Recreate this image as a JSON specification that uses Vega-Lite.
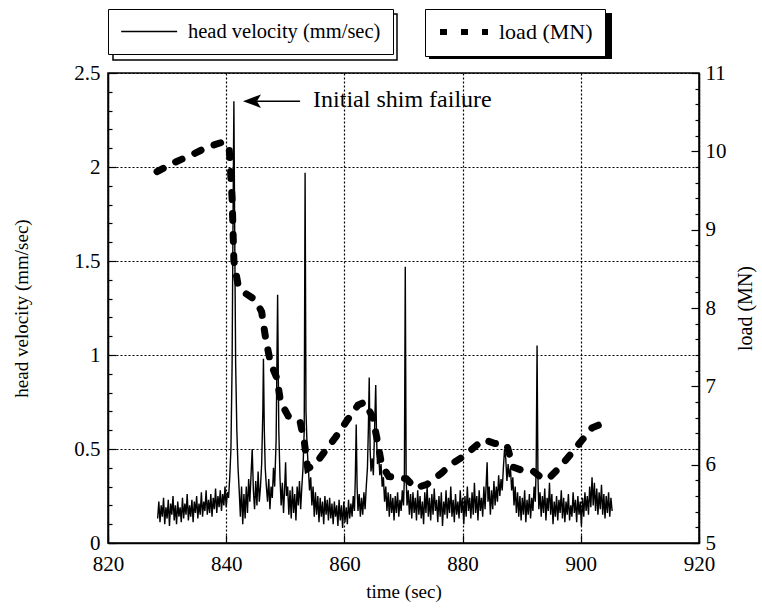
{
  "$schema": "https://vega.github.io/schema/vega-lite/v6.json",
  "width": 591,
  "height": 470,
  "autosize": {"type": "none"},
  "padding": {"left": 108, "top": 73, "right": 63, "bottom": 70},
  "background": "white",
  "config": {
    "font": "Liberation Serif",
    "view": {"stroke": "black", "strokeWidth": 1.5},
    "axis": {
      "labelFont": "Liberation Serif", "labelFontSize": 21, "labelColor": "black",
      "titleFont": "Liberation Serif", "titleFontSize": 19, "titleFontWeight": "normal", "titleColor": "black",
      "domainColor": "black", "domainWidth": 1.5, "tickColor": "black", "tickWidth": 1.2,
      "gridColor": "black", "gridDash": [2, 2], "gridWidth": 1.2,
      "labelOverlap": false, "labelFlush": false, "labelBound": false
    },
    "legend": {"labelFont": "Liberation Serif", "labelColor": "black", "labelLimit": 0}
  },
  "datasets": {
    "vel": [
      {"t":828.4,"v":0.13},{"t":828.6,"v":0.22},{"t":828.8,"v":0.11},{"t":829.0,"v":0.2},{"t":829.2,"v":0.14},{"t":829.4,"v":0.24},{"t":829.6,"v":0.1},{"t":829.8,"v":0.19},{"t":830.0,"v":0.13},{"t":830.2,"v":0.23},{"t":830.4,"v":0.09},{"t":830.6,"v":0.21},{"t":830.8,"v":0.15},{"t":831.0,"v":0.25},{"t":831.2,"v":0.12},{"t":831.4,"v":0.2},{"t":831.6,"v":0.1},{"t":831.8,"v":0.22},{"t":832.0,"v":0.14},{"t":832.2,"v":0.19},{"t":832.4,"v":0.11},{"t":832.6,"v":0.24},{"t":832.8,"v":0.13},{"t":833.0,"v":0.21},{"t":833.2,"v":0.15},{"t":833.4,"v":0.26},{"t":833.6,"v":0.12},{"t":833.8,"v":0.2},{"t":834.0,"v":0.14},{"t":834.2,"v":0.23},{"t":834.4,"v":0.11},{"t":834.6,"v":0.22},{"t":834.8,"v":0.16},{"t":835.0,"v":0.25},{"t":835.2,"v":0.13},{"t":835.4,"v":0.21},{"t":835.6,"v":0.15},{"t":835.8,"v":0.27},{"t":836.0,"v":0.14},{"t":836.2,"v":0.22},{"t":836.4,"v":0.17},{"t":836.6,"v":0.28},{"t":836.8,"v":0.15},{"t":837.0,"v":0.23},{"t":837.2,"v":0.16},{"t":837.4,"v":0.26},{"t":837.6,"v":0.14},{"t":837.8,"v":0.24},{"t":838.0,"v":0.18},{"t":838.2,"v":0.29},{"t":838.4,"v":0.16},{"t":838.6,"v":0.25},{"t":838.8,"v":0.19},{"t":839.0,"v":0.28},{"t":839.2,"v":0.17},{"t":839.4,"v":0.26},{"t":839.6,"v":0.2},{"t":839.8,"v":0.3},{"t":840.0,"v":0.19},{"t":840.2,"v":0.27},{"t":840.4,"v":0.24},{"t":840.6,"v":0.35},
      {"t":840.8,"v":0.5},{"t":841.0,"v":0.95},{"t":841.15,"v":1.7},{"t":841.3,"v":2.35},{"t":841.45,"v":1.6},{"t":841.6,"v":0.95},{"t":841.8,"v":0.6},{"t":842.0,"v":0.4},{"t":842.2,"v":0.28},
      {"t":842.4,"v":0.14},{"t":842.6,"v":0.3},{"t":842.8,"v":0.1},{"t":843.0,"v":0.26},{"t":843.2,"v":0.13},{"t":843.4,"v":0.3},{"t":843.6,"v":0.16},{"t":843.8,"v":0.34},{"t":844.0,"v":0.22},{"t":844.2,"v":0.36},{"t":844.4,"v":0.5},{"t":844.6,"v":0.28},{"t":844.8,"v":0.18},{"t":845.0,"v":0.33},{"t":845.2,"v":0.2},{"t":845.4,"v":0.38},{"t":845.6,"v":0.22},{"t":845.8,"v":0.3},{"t":846.0,"v":0.42},{"t":846.2,"v":0.7},{"t":846.3,"v":0.98},{"t":846.45,"v":0.6},{"t":846.6,"v":0.4},{"t":846.8,"v":0.3},{"t":847.0,"v":0.22},{"t":847.2,"v":0.34},{"t":847.4,"v":0.18},{"t":847.6,"v":0.3},{"t":847.8,"v":0.24},{"t":848.0,"v":0.4},{"t":848.2,"v":0.3},{"t":848.45,"v":0.55},{"t":848.7,"v":1.32},{"t":848.9,"v":0.6},{"t":849.1,"v":0.35},{"t":849.3,"v":0.2},{"t":849.5,"v":0.32},{"t":849.7,"v":0.16},{"t":849.9,"v":0.3},{"t":850.05,"v":0.43},{"t":850.2,"v":0.25},{"t":850.4,"v":0.3},{"t":850.6,"v":0.15},{"t":850.8,"v":0.28},{"t":851.0,"v":0.13},{"t":851.2,"v":0.3},{"t":851.4,"v":0.16},{"t":851.6,"v":0.26},{"t":851.8,"v":0.12},{"t":852.0,"v":0.3},{"t":852.2,"v":0.2},{"t":852.4,"v":0.33},{"t":852.6,"v":0.18},{"t":852.8,"v":0.3},{"t":853.0,"v":0.4},{"t":853.2,"v":0.6},{"t":853.35,"v":1.97},{"t":853.5,"v":0.7},{"t":853.7,"v":0.5},{"t":853.9,"v":0.4},{"t":854.1,"v":0.28},{"t":854.3,"v":0.35},{"t":854.5,"v":0.2},{"t":854.7,"v":0.3},{"t":854.9,"v":0.14},{"t":855.1,"v":0.27},{"t":855.3,"v":0.15},{"t":855.5,"v":0.25},{"t":855.7,"v":0.11},{"t":855.9,"v":0.24},{"t":856.1,"v":0.14},{"t":856.3,"v":0.22},{"t":856.5,"v":0.1},{"t":856.7,"v":0.25},{"t":856.9,"v":0.15},{"t":857.1,"v":0.23},{"t":857.3,"v":0.12},{"t":857.5,"v":0.24},{"t":857.7,"v":0.13},{"t":857.9,"v":0.21},{"t":858.1,"v":0.1},{"t":858.3,"v":0.22},{"t":858.5,"v":0.14},{"t":858.7,"v":0.2},{"t":858.9,"v":0.09},{"t":859.1,"v":0.23},{"t":859.3,"v":0.12},{"t":859.5,"v":0.2},{"t":859.7,"v":0.08},{"t":859.9,"v":0.22},{"t":860.1,"v":0.11},{"t":860.3,"v":0.19},{"t":860.5,"v":0.1},{"t":860.7,"v":0.23},{"t":860.9,"v":0.13},{"t":861.1,"v":0.21},{"t":861.3,"v":0.14},{"t":861.5,"v":0.25},{"t":861.7,"v":0.17},{"t":861.85,"v":0.35},{"t":862.0,"v":0.63},{"t":862.15,"v":0.3},{"t":862.3,"v":0.17},{"t":862.5,"v":0.26},{"t":862.7,"v":0.14},{"t":862.9,"v":0.24},{"t":863.1,"v":0.15},{"t":863.3,"v":0.27},{"t":863.5,"v":0.18},{"t":863.7,"v":0.3},{"t":863.9,"v":0.4},{"t":864.05,"v":0.6},{"t":864.2,"v":0.88},{"t":864.35,"v":0.5},{"t":864.5,"v":0.38},{"t":864.7,"v":0.45},{"t":864.9,"v":0.36},{"t":865.1,"v":0.6},{"t":865.3,"v":0.84},{"t":865.45,"v":0.55},{"t":865.6,"v":0.42},{"t":865.8,"v":0.47},{"t":866.0,"v":0.36},{"t":866.2,"v":0.42},{"t":866.4,"v":0.3},{"t":866.6,"v":0.35},{"t":866.8,"v":0.22},{"t":867.0,"v":0.3},{"t":867.2,"v":0.17},{"t":867.4,"v":0.27},{"t":867.6,"v":0.14},{"t":867.8,"v":0.26},{"t":868.0,"v":0.16},{"t":868.2,"v":0.24},{"t":868.4,"v":0.12},{"t":868.6,"v":0.25},{"t":868.8,"v":0.16},{"t":869.0,"v":0.27},{"t":869.2,"v":0.14},{"t":869.4,"v":0.23},{"t":869.6,"v":0.17},{"t":869.8,"v":0.28},{"t":870.0,"v":0.2},{"t":870.15,"v":0.35},{"t":870.3,"v":1.47},{"t":870.45,"v":0.35},{"t":870.6,"v":0.2},{"t":870.8,"v":0.28},{"t":871.0,"v":0.15},{"t":871.2,"v":0.26},{"t":871.4,"v":0.13},{"t":871.6,"v":0.27},{"t":871.8,"v":0.16},{"t":872.0,"v":0.24},{"t":872.2,"v":0.12},{"t":872.4,"v":0.28},{"t":872.6,"v":0.15},{"t":872.8,"v":0.25},{"t":873.0,"v":0.13},{"t":873.2,"v":0.22},{"t":873.4,"v":0.1},{"t":873.6,"v":0.27},{"t":873.8,"v":0.16},{"t":874.0,"v":0.3},{"t":874.2,"v":0.14},{"t":874.4,"v":0.24},{"t":874.6,"v":0.12},{"t":874.8,"v":0.26},{"t":875.0,"v":0.15},{"t":875.2,"v":0.29},{"t":875.4,"v":0.17},{"t":875.6,"v":0.23},{"t":875.8,"v":0.11},{"t":876.0,"v":0.25},{"t":876.2,"v":0.14},{"t":876.4,"v":0.27},{"t":876.6,"v":0.09},{"t":876.8,"v":0.22},{"t":877.0,"v":0.15},{"t":877.2,"v":0.28},{"t":877.4,"v":0.13},{"t":877.6,"v":0.24},{"t":877.8,"v":0.16},{"t":878.0,"v":0.3},{"t":878.2,"v":0.14},{"t":878.4,"v":0.23},{"t":878.6,"v":0.11},{"t":878.8,"v":0.26},{"t":879.0,"v":0.15},{"t":879.2,"v":0.22},{"t":879.4,"v":0.13},{"t":879.6,"v":0.28},{"t":879.8,"v":0.16},{"t":880.0,"v":0.24},{"t":880.2,"v":0.1},{"t":880.4,"v":0.25},{"t":880.6,"v":0.14},{"t":880.8,"v":0.3},{"t":881.0,"v":0.17},{"t":881.2,"v":0.24},{"t":881.4,"v":0.13},{"t":881.6,"v":0.27},{"t":881.8,"v":0.15},{"t":882.0,"v":0.32},{"t":882.2,"v":0.16},{"t":882.4,"v":0.25},{"t":882.6,"v":0.12},{"t":882.8,"v":0.28},{"t":883.0,"v":0.17},{"t":883.2,"v":0.24},{"t":883.4,"v":0.14},{"t":883.6,"v":0.3},{"t":883.8,"v":0.18},{"t":884.0,"v":0.32},{"t":884.15,"v":0.43},{"t":884.3,"v":0.22},{"t":884.5,"v":0.3},{"t":884.7,"v":0.15},{"t":884.9,"v":0.28},{"t":885.1,"v":0.18},{"t":885.3,"v":0.33},{"t":885.5,"v":0.2},{"t":885.7,"v":0.3},{"t":885.9,"v":0.22},{"t":886.1,"v":0.36},{"t":886.3,"v":0.25},{"t":886.5,"v":0.34},{"t":886.7,"v":0.28},{"t":886.9,"v":0.4},{"t":887.1,"v":0.5},{"t":887.3,"v":0.45},{"t":887.5,"v":0.33},{"t":887.7,"v":0.42},{"t":887.9,"v":0.35},{"t":888.1,"v":0.4},{"t":888.3,"v":0.28},{"t":888.5,"v":0.35},{"t":888.7,"v":0.2},{"t":888.9,"v":0.3},{"t":889.1,"v":0.16},{"t":889.3,"v":0.27},{"t":889.5,"v":0.14},{"t":889.7,"v":0.25},{"t":889.9,"v":0.12},{"t":890.1,"v":0.24},{"t":890.3,"v":0.15},{"t":890.5,"v":0.28},{"t":890.7,"v":0.11},{"t":890.9,"v":0.23},{"t":891.1,"v":0.15},{"t":891.3,"v":0.26},{"t":891.5,"v":0.13},{"t":891.7,"v":0.24},{"t":891.9,"v":0.17},{"t":892.1,"v":0.3},{"t":892.3,"v":0.22},{"t":892.45,"v":0.4},{"t":892.6,"v":1.05},{"t":892.75,"v":0.35},{"t":892.9,"v":0.18},{"t":893.1,"v":0.27},{"t":893.3,"v":0.14},{"t":893.5,"v":0.25},{"t":893.7,"v":0.16},{"t":893.9,"v":0.29},{"t":894.1,"v":0.12},{"t":894.3,"v":0.24},{"t":894.5,"v":0.17},{"t":894.7,"v":0.32},{"t":894.9,"v":0.15},{"t":895.1,"v":0.26},{"t":895.3,"v":0.1},{"t":895.5,"v":0.22},{"t":895.7,"v":0.14},{"t":895.9,"v":0.25},{"t":896.1,"v":0.12},{"t":896.3,"v":0.23},{"t":896.5,"v":0.16},{"t":896.7,"v":0.28},{"t":896.9,"v":0.13},{"t":897.1,"v":0.24},{"t":897.3,"v":0.11},{"t":897.5,"v":0.22},{"t":897.7,"v":0.15},{"t":897.9,"v":0.26},{"t":898.1,"v":0.12},{"t":898.3,"v":0.2},{"t":898.5,"v":0.14},{"t":898.7,"v":0.27},{"t":898.9,"v":0.16},{"t":899.1,"v":0.23},{"t":899.3,"v":0.11},{"t":899.5,"v":0.25},{"t":899.7,"v":0.15},{"t":899.9,"v":0.22},{"t":900.1,"v":0.09},{"t":900.3,"v":0.24},{"t":900.5,"v":0.14},{"t":900.7,"v":0.27},{"t":900.9,"v":0.17},{"t":901.1,"v":0.25},{"t":901.3,"v":0.15},{"t":901.5,"v":0.3},{"t":901.7,"v":0.19},{"t":901.9,"v":0.35},{"t":902.1,"v":0.2},{"t":902.3,"v":0.32},{"t":902.5,"v":0.17},{"t":902.7,"v":0.29},{"t":902.9,"v":0.15},{"t":903.1,"v":0.27},{"t":903.3,"v":0.18},{"t":903.5,"v":0.31},{"t":903.7,"v":0.15},{"t":903.9,"v":0.26},{"t":904.1,"v":0.13},{"t":904.3,"v":0.25},{"t":904.5,"v":0.16},{"t":904.7,"v":0.27},{"t":904.9,"v":0.14},{"t":905.1,"v":0.24},{"t":905.3,"v":0.17}
    ],
    "load": [
      {"t":828.3,"load":9.74},{"t":831,"load":9.85},{"t":834,"load":9.95},{"t":837,"load":10.06},{"t":839.5,"load":10.12},{"t":840.5,"load":10.05},{"t":841.0,"load":9.4},{"t":841.3,"load":8.6},{"t":842.0,"load":8.3},{"t":843,"load":8.2},{"t":845,"load":8.1},{"t":846,"load":7.95},{"t":846.7,"load":7.6},{"t":847.5,"load":7.3},{"t":848.6,"load":7.1},{"t":849.2,"load":6.8},{"t":850.5,"load":6.62},{"t":852.5,"load":6.55},{"t":853.2,"load":6.3},{"t":853.8,"load":5.95},{"t":855,"load":6.0},{"t":856.5,"load":6.15},{"t":858.5,"load":6.35},{"t":860.5,"load":6.57},{"t":862.3,"load":6.76},{"t":863.5,"load":6.8},{"t":864.8,"load":6.6},{"t":865.6,"load":6.3},{"t":866.3,"load":6.0},{"t":867.5,"load":5.85},{"t":870.5,"load":5.82},{"t":872,"load":5.7},{"t":874,"load":5.75},{"t":876.4,"load":5.89},{"t":878,"load":6.0},{"t":880.4,"load":6.12},{"t":883.5,"load":6.32},{"t":885.5,"load":6.27},{"t":887.5,"load":6.25},{"t":888.5,"load":5.97},{"t":890,"load":5.93},{"t":891.7,"load":5.93},{"t":893.4,"load":5.83},{"t":894.5,"load":5.82},{"t":896.5,"load":5.97},{"t":899,"load":6.2},{"t":901.9,"load":6.47},{"t":903.5,"load":6.52},{"t":905,"load":6.56}
    ]
  },
  "encoding": {
    "x": {
      "field": "t", "type": "quantitative",
      "scale": {"domain": [820, 920], "nice": false, "zero": false},
      "axis": {
        "values": [820, 840, 860, 880, 900, 920], "format": "d",
        "title": "time (sec)", "grid": true, "tickSize": -8,
        "labelPadding": 18, "titlePadding": 8
      }
    }
  },
  "layer": [
    {
      "encoding": {
        "y": {
          "field": "v", "type": "quantitative",
          "scale": {"domain": [0, 2.5], "nice": false},
          "axis": {
            "orient": "left",
            "values": [0,0.1,0.2,0.3,0.4,0.5,0.6,0.7,0.8,0.9,1,1.1,1.2,1.3,1.4,1.5,1.6,1.7,1.8,1.9,2,2.1,2.2,2.3,2.4,2.5],
            "title": "head velocity (mm/sec)",
            "labelExpr": "abs(datum.value*2-round(datum.value*2))<0.01 ? format(datum.value,'~g') : ''",
            "tickSize": {"condition": {"test": "abs(datum.value*2-round(datum.value*2))<0.01", "value": -8}, "value": -4},
            "grid": true,
            "gridOpacity": {"condition": {"test": "abs(datum.value*2-round(datum.value*2))<0.01", "value": 1}, "value": 0},
            "labelPadding": 16, "titlePadding": 42
          }
        }
      },
      "layer": [
        {
          "data": {"name": "vel"},
          "mark": {"type": "line", "color": "black", "strokeWidth": 1.4},
          "encoding": {
            "color": {
              "datum": "head velocity (mm/sec)", "type": "nominal",
              "scale": {"range": ["black"]},
              "legend": {
                "title": null, "orient": "none", "legendX": 0, "legendY": -64,
                "padding": 12, "labelFontSize": 20.5, "labelOffset": 47,
                "symbolType": "M-1,0L5,0", "symbolSize": 348, "symbolStrokeWidth": 1.5,
                "strokeColor": "black", "fillColor": "white", "zindex": 2
              }
            },
            "opacity": {
              "datum": "hv shadow", "type": "nominal",
              "scale": {"range": [1, 1]},
              "legend": {
                "title": null, "orient": "none", "legendX": 3, "legendY": -61,
                "padding": 0, "labelFontSize": 1, "labelOffset": 0,
                "labelExpr": "''",
                "symbolType": "M0,0H284V46H0Z", "symbolSize": 4,
                "zindex": 1,
                "encode": {"symbols": {"update": {"fill": {"value": "black"}, "fillOpacity": {"value": 1}, "stroke": {"value": "black"}, "strokeWidth": {"value": 0}, "opacity": {"value": 1}}}}
              }
            }
          }
        },
        {
          "data": {"values": [{"t": 844.5, "t2": 852.5, "v": 2.35}]},
          "mark": {"type": "rule", "color": "black", "strokeWidth": 1.5},
          "encoding": {
            "x2": {"field": "t2"}
          }
        },
        {
          "data": {"values": [{"t": 844.36, "v": 2.35}]},
          "mark": {"type": "point", "shape": "M -1 0 L 1 -0.75 L 0.55 0 L 1 0.75 Z", "filled": true, "color": "black", "size": 324, "opacity": 1}
        },
        {
          "data": {"values": [{"t": 854.7, "v": 2.356, "note": "Initial shim failure"}]},
          "mark": {"type": "text", "align": "left", "baseline": "middle", "fontSize": 24, "font": "Liberation Serif", "color": "black"},
          "encoding": {
            "text": {"field": "note"}
          }
        }
      ]
    },
    {
      "data": {"name": "load"},
      "mark": {"type": "line", "color": "black", "strokeCap": "round"},
      "encoding": {
        "y": {
          "field": "load", "type": "quantitative",
          "scale": {"domain": [5, 11], "nice": false, "zero": false},
          "axis": {
            "orient": "right",
            "values": [5,5.2,5.4,5.6,5.8,6,6.2,6.4,6.6,6.8,7,7.2,7.4,7.6,7.8,8,8.2,8.4,8.6,8.8,9,9.2,9.4,9.6,9.8,10,10.2,10.4,10.6,10.8,11],
            "title": "load (MN)", "titleAngle": 270, "titleFontSize": 20,
            "labelExpr": "abs(datum.value-round(datum.value))<0.01 ? format(datum.value,'d') : ''",
            "tickSize": {"condition": {"test": "abs(datum.value-round(datum.value))<0.01", "value": -8}, "value": -4},
            "grid": false, "labelPadding": 14, "titlePadding": 29
          }
        },
        "strokeDash": {
          "datum": "load (MN)", "type": "nominal",
          "scale": {"range": [[7, 14]]},
          "legend": {
            "title": null, "orient": "none", "legendX": 317, "legendY": -64,
            "padding": 12, "labelFontSize": 22, "labelOffset": 40,
            "symbolType": "M-1,0L5,0", "symbolSize": 256, "symbolStrokeWidth": 6,
            "strokeColor": "black", "fillColor": "white", "zindex": 2,
            "encode": {"symbols": {"update": {"strokeDash": {"value": [9, 4]}, "stroke": {"value": "black"}}}}
          }
        },
        "strokeWidth": {
          "datum": "load shadow", "type": "nominal",
          "scale": {"range": [7, 7]},
          "legend": {
            "title": null, "orient": "none", "legendX": 320, "legendY": -61,
            "padding": 0, "labelFontSize": 1, "labelOffset": 0,
            "labelExpr": "''",
            "symbolType": "M0,0H176V39H0Z", "symbolSize": 4,
            "zindex": 1,
            "encode": {"symbols": {"update": {"fill": {"value": "black"}, "fillOpacity": {"value": 1}, "stroke": {"value": "black"}, "strokeWidth": {"value": 0}, "opacity": {"value": 1}}}}
          }
        }
      }
    }
  ],
  "resolve": {"scale": {"y": "independent"}}
}
